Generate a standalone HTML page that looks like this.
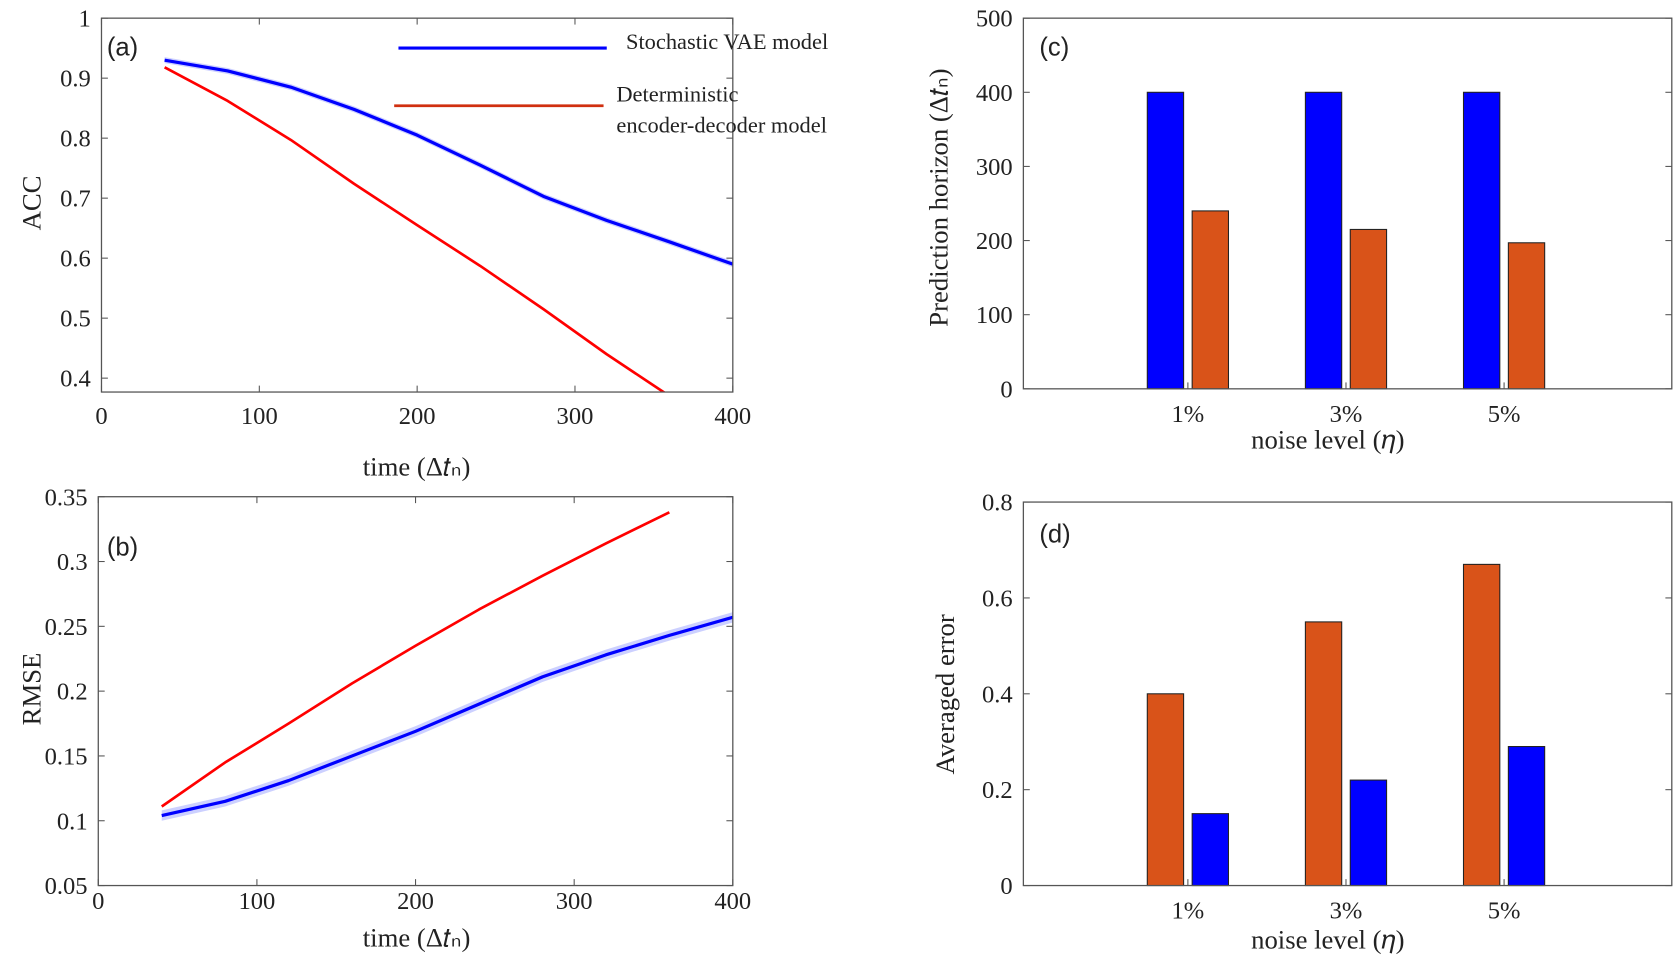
<!DOCTYPE html>
<html><head><meta charset="utf-8">
<style>
html,body{margin:0;padding:0;background:#fff;}
svg{display:block;}
text{font-family:"Liberation Serif",serif;fill:#222;}
.sans{font-family:"Liberation Sans",sans-serif;}
</style></head>
<body>
<svg id="fig" width="1675" height="960" viewBox="0 0 1568 898.7" preserveAspectRatio="none" xmlns="http://www.w3.org/2000/svg"></svg>
<script>
// ---- data ----
const timeSteps = [40,80,120,160,200,240,280,320,360,400];
const accVae = [0.93,0.912,0.885,0.848,0.805,0.755,0.703,0.663,0.627,0.59];
const accDet = [0.918,0.862,0.797,0.724,0.655,0.587,0.515,0.44,0.37];
const rmseVae = [0.104,0.115,0.131,0.15,0.169,0.19,0.211,0.228,0.243,0.257];
const rmseDet = [0.111,0.145,0.175,0.206,0.235,0.263,0.289,0.314,0.338];
const noiseLevels = ["1%","3%","5%"];
const horizonVae = [400,400,400];
const horizonDet = [240,215,197];
const errorDet = [0.4,0.55,0.67];
const errorVae = [0.15,0.22,0.29];
const timeTicks = [0,100,200,300,400];
const accTicks = [0.4,0.5,0.6,0.7,0.8,0.9,1];
const rmseTicks = [0.05,0.1,0.15,0.2,0.25,0.3,0.35];
const horizonTicks = [0,100,200,300,400,500];
const errorTicks = [0,0.2,0.4,0.6,0.8];

const NS="http://www.w3.org/2000/svg";
const svg=document.getElementById('fig');
function mk(tag,attrs,parent){const e=document.createElementNS(NS,tag);for(const k in attrs)e.setAttribute(k,attrs[k]);(parent||svg).appendChild(e);return e;}
function txt(s,x,y,size,anchor,parent,cls){const t=mk('text',{x:x,y:y,'font-size':size,'text-anchor':anchor||'middle'},parent);if(cls)t.setAttribute('class',cls);t.textContent=s;return t;}
function lin(d0,d1,r0,r1){return v=>r0+(v-d0)/(d1-d0)*(r1-r0);}

function axesBox(g,L,R,T,B){
  const r=mk('rect',{x:L,y:T,width:R-L,height:B-T,fill:'none',stroke:'#555','stroke-width':1.2},g);
  
  
}
function yTicks(g,ticks,sy,L,R,fmt){
  ticks.forEach(v=>{
    const y=sy(v);
    mk('line',{x1:L,x2:L+6,y1:y,y2:y,stroke:'#555'},g);
    mk('line',{x1:R,x2:R-6,y1:y,y2:y,stroke:'#555'},g);
    const t=txt(fmt(v),L-10,y+8,23,'end',g);
    
    
  });
}
function xTicks(g,ticks,sx,T,B,ly){
  ticks.forEach(v=>{
    const x=sx(v);
    mk('line',{x1:x,x2:x,y1:B,y2:B-6,stroke:'#555'},g);
    mk('line',{x1:x,x2:x,y1:T,y2:T+6,stroke:'#555'},g);
    const t=txt(String(v),x,ly,23,'middle',g);
    
    
  });
}
function path(g,xs,ys,sx,sy,color,w){
  let d='';xs.slice(0,ys.length).forEach((x,i)=>{d+=(i?'L':'M')+sx(x)+','+sy(ys[i]);});
  return mk('path',{d:d,fill:'none',stroke:color,'stroke-width':w,'stroke-linejoin':'round'},g);
}
function band(g,xs,ys,sx,sy,dv){
  let d='';xs.forEach((x,i)=>{d+=(i?'L':'M')+sx(x)+','+sy(ys[i]+dv);});
  for(let i=xs.length-1;i>=0;i--)d+='L'+sx(xs[i])+','+sy(ys[i]-dv);
  return mk('path',{d:d+'Z',fill:'#aab0ff',opacity:0.6},g);
}
function clip(id,L,R,T,B){const c=mk('clipPath',{id:id});mk('rect',{x:L,y:T,width:R-L,height:B-T},c);}

// ---- panel a ----
(function(){
  const L=95,R=686,T=17,B=367;
  const g=mk('g',{});
  const sx=lin(0,400,L,R), sy=lin(1,0.4,T,354);
  clip('ca',L,R,T,B);
  const inner=mk('g',{'clip-path':'url(#ca)'},g);
  band(inner,timeSteps,accVae,sx,sy,0.005);
  const lv=path(inner,timeSteps,accVae,sx,sy,'#0000ff',3);
  
  const ld=path(inner,timeSteps,accDet,sx,sy,'#ff0000',2.5);
  
  axesBox(g,L,R,T,B);
  yTicks(g,accTicks,sy,L,R,v=>v===1?'1':v.toFixed(1));
  xTicks(g,timeTicks,sx,T,B,397);
  const pl=txt('(a)',100,52,24,'start',g,'sans');
  const xl=txt('time (Δ𝑡ₙ)',390,445,25,'middle',g);
  const yl=txt('ACC',0,0,25,'middle',g);yl.setAttribute('transform','translate(38,190) rotate(-90)');
  const leg=mk('g',{},g);
  mk('line',{x1:373,x2:568,y1:45,y2:45,stroke:'#0000ff','stroke-width':3},leg);
  txt('Stochastic VAE model',586,46,21,'start',leg);
  mk('line',{x1:369,x2:565,y1:99,y2:99,stroke:'#d03010','stroke-width':2.5},leg);
  txt('Deterministic',577,95,21,'start',leg);
  txt('encoder-decoder model',577,124,21,'start',leg);
})();

// ---- panel b ----
(function(){
  const L=92,R=686,T=465,B=829;
  const g=mk('g',{});
  const sx=lin(0,400,L,R), sy=lin(0.35,0.05,T,B);
  clip('cb',L,R,T,B);
  const inner=mk('g',{'clip-path':'url(#cb)'},g);
  band(inner,timeSteps,rmseVae,sx,sy,0.004);
  const lv=path(inner,timeSteps,rmseVae,sx,sy,'#0000ff',3);
  
  const ld=path(inner,timeSteps,rmseDet,sx,sy,'#ff0000',2.5);
  
  axesBox(g,L,R,T,B);
  yTicks(g,rmseTicks,sy,L,R,v=>String(+v.toFixed(2)));
  xTicks(g,timeTicks,sx,T,B,851);
  const pl=txt('(b)',100,520,24,'start',g,'sans');
  const xl=txt('time (Δ𝑡ₙ)',390,886,25,'middle',g);
  const yl=txt('RMSE',0,0,25,'middle',g);yl.setAttribute('transform','translate(38,645) rotate(-90)');
})();

// ---- bar panels ----
function barPanel(name,L,R,T,B,dmax,ticks,first,second,firstColor,secondColor,fmt,label,ly,xly,ytitle,ytx,yty,tickLy){
  const g=mk('g',{});
  const sy=lin(0,dmax,B,T);
  const cx=i=>1112+i*148;
  noiseLevels.forEach((n,i)=>{
    const h1=first[i], h2=second[i];
    const b1=mk('rect',{x:cx(i)-38,y:sy(h1),width:34,height:B-sy(h1),fill:firstColor,stroke:'#222','stroke-width':1},g);
    
    
    const b2=mk('rect',{x:cx(i)+4,y:sy(h2),width:34,height:B-sy(h2),fill:secondColor,stroke:'#222','stroke-width':1},g);
    
    
    mk('line',{x1:cx(i),x2:cx(i),y1:B,y2:B-6,stroke:'#555'},g);
    const t=txt(n,cx(i),tickLy,23,'middle',g);
    
    
  });
  axesBox(g,L,R,T,B);
  yTicks(g,ticks,sy,L,R,fmt);
  const pl=txt(label,973,ly,24,'start',g,'sans');
  const xl=txt('noise level (𝜂)',1243,xly,25,'middle',g);
  const yl=txt(ytitle,0,0,25,'middle',g);yl.setAttribute('transform','translate('+ytx+','+yty+') rotate(-90)');
}
barPanel('horizon-panel',958,1565,17,364,500,horizonTicks,horizonVae,horizonDet,'#0000ff','#d95319',v=>String(v),'(c)',52,420,'Prediction horizon (Δ𝑡ₙ)',887,185,395);
barPanel('error-panel',958,1565,470,829,0.8,errorTicks,errorDet,errorVae,'#d95319','#0000ff',v=>v===0?'0':v.toFixed(1),'(d)',508,888,'Averaged error',893,650,860);
</script>
</body></html>
